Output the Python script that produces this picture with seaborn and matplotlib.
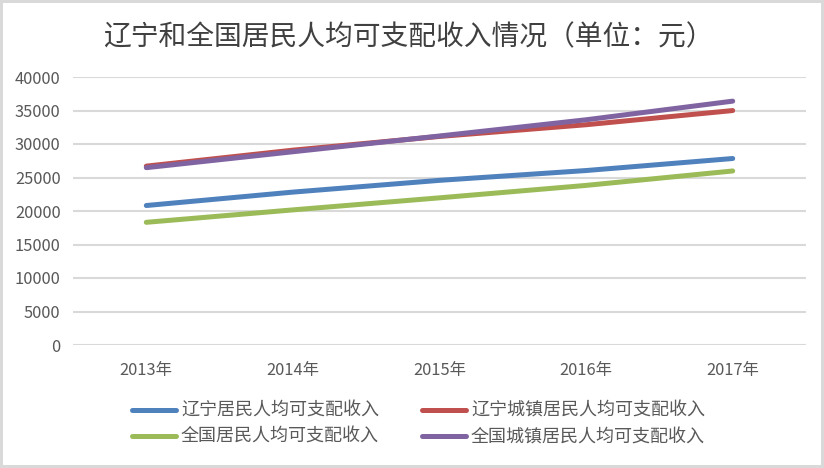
import pandas as pd
import matplotlib.pyplot as plt
import seaborn as sns

# data (元)
years = ["2013年", "2014年", "2015年", "2016年", "2017年"]
ln_all = [20818, 22820, 24576, 26040, 27835]
ln_urban = [26697, 29082, 31126, 32876, 34993]
cn_all = [18311, 20167, 21966, 23821, 25974]
cn_urban = [26467, 28844, 31195, 33616, 36396]

series = {
    "辽宁居民人均可支配收入": ln_all,
    "辽宁城镇居民人均可支配收入": ln_urban,
    "全国居民人均可支配收入": cn_all,
    "全国城镇居民人均可支配收入": cn_urban,
}
colors = {
    "辽宁居民人均可支配收入": "#4f81bd",
    "辽宁城镇居民人均可支配收入": "#c0504d",
    "全国居民人均可支配收入": "#9bbb59",
    "全国城镇居民人均可支配收入": "#8064a2",
}

rows = []
for name, vals in series.items():
    for y, v in zip(years, vals):
        rows.append({"year": y, "income": v, "series": name})
df = pd.DataFrame(rows)

sns.set_theme(style="white")
plt.rcParams['font.family'] = ['Noto Sans CJK SC', 'DejaVu Sans']

fig = plt.figure(figsize=(8.24, 4.68), dpi=100, edgecolor="#d9d9d9", linewidth=3)
ax = fig.add_axes([73 / 824, 1 - 345 / 468, 733 / 824, 268 / 468])

sns.lineplot(data=df, x="year", y="income", hue="series", palette=colors,
             linewidth=3.6, ax=ax, legend=False, solid_capstyle="round")

ax.set_xlim(-0.5, 4.5)
ax.set_ylim(0, 40000)
ax.set_yticks(range(0, 40001, 5000))
ax.yaxis.grid(True, color="#d9d9d9", linewidth=1.5)
ax.set_axisbelow(True)
for s in ax.spines.values():
    s.set_visible(False)
ax.tick_params(axis="both", length=0, colors="#595959", labelsize=11.8)
ax.tick_params(axis="y", pad=9)
ax.tick_params(axis="x", pad=12)
ax.set_xlabel("")
ax.set_ylabel("")

fig.text(0.495, 0.921, "辽宁和全国居民人均可支配收入情况（单位：元）",
         ha="center", va="center", fontsize=20, color="#404040")

# legend: row1 blue/red, row2 green/purple
names = list(series.keys())
order = [names[0], names[2], names[1], names[3]]
handles = [plt.Line2D([], [], color=colors[n], linewidth=3.6, solid_capstyle="round") for n in order]
fig.legend(handles, order, ncol=2, loc="center", bbox_to_anchor=(0.508, 1 - 424 / 468),
           frameon=False, fontsize=13, handlelength=2.4, handletextpad=0.3,
           columnspacing=2.4, labelspacing=0.45, labelcolor="#595959")

fig.savefig("out.png", dpi=100)
